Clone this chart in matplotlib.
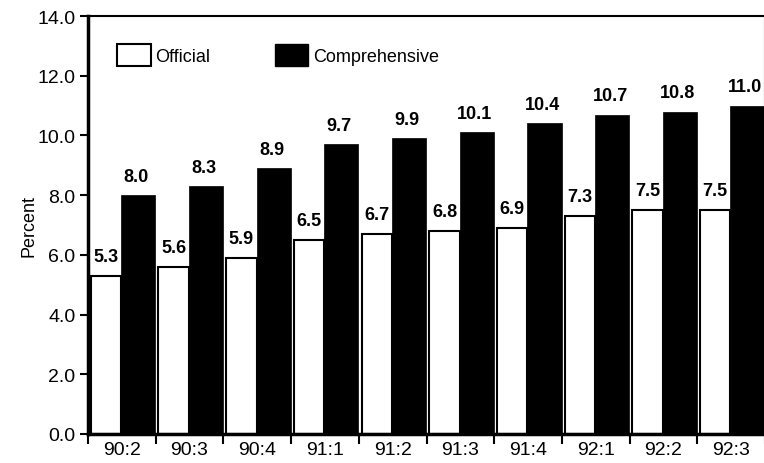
import matplotlib
matplotlib.use("Agg")
import matplotlib.pyplot as plt
from matplotlib.patches import Patch

plt.rcParams['font.family'] = ['Liberation Sans', 'DejaVu Sans']

quarters = ["90:2", "90:3", "90:4", "91:1", "91:2", "91:3", "91:4", "92:1", "92:2", "92:3"]
official = [5.3, 5.6, 5.9, 6.5, 6.7, 6.8, 6.9, 7.3, 7.5, 7.5]
comprehensive = [8.0, 8.3, 8.9, 9.7, 9.9, 10.1, 10.4, 10.7, 10.8, 11.0]
yticks = [0, 2, 4, 6, 8, 10, 12, 14]

fig = plt.figure(figsize=(7.64, 4.64), dpi=100)
ax = fig.add_axes([88/764, 29/464, 677/764, 418/464])

n = len(quarters)
w_off = 0.45
w_comp = 0.505
x0 = [i + 0.04 for i in range(n)]
x1 = [i + 0.04 + w_off for i in range(n)]

ax.bar(x0, official, width=w_off, align='edge', color='white', edgecolor='black', linewidth=1.5, zorder=2)
ax.bar(x1, comprehensive, width=w_comp, align='edge', color='black', edgecolor='black', linewidth=0.5, zorder=2)

for i in range(n):
    ax.annotate(f"{official[i]:.1f}", (x0[i] + w_off/2, official[i]), xytext=(0, 10.5),
                textcoords='offset points', ha='center', va='baseline', fontsize=13, fontweight='bold')
    ax.annotate(f"{comprehensive[i]:.1f}", (x1[i] + w_comp/2, comprehensive[i]), xytext=(-1.5, 10.5),
                textcoords='offset points', ha='center', va='baseline', fontsize=13, fontweight='bold')

ax.set_xlim(0, n)
ax.set_ylim(0, 14)
ax.set_yticks(yticks)
ax.set_yticklabels([f"{v:.1f}" for v in yticks], fontsize=14)
ax.set_xticks(range(n + 1))
ax.set_xticklabels([])
ax.set_xticks([i + 0.5 for i in range(n)], minor=True)
ax.set_xticklabels(quarters, minor=True, fontsize=14)
ax.tick_params(axis='x', which='major', direction='out', length=7, width=1.5)
ax.tick_params(axis='x', which='minor', length=0, pad=5)
ax.tick_params(axis='y', direction='out', length=6, width=1.5, pad=3)
ax.set_ylabel("Percent", fontsize=13, labelpad=0)

for s in ['left', 'bottom']:
    ax.spines[s].set_linewidth(2.5)
ax.spines['top'].set_linewidth(1.5)
ax.spines['right'].set_linewidth(1.5)

handles = [Patch(facecolor='white', edgecolor='black', linewidth=1.5, label='Official'),
           Patch(facecolor='black', edgecolor='black', label='Comprehensive')]
ax.legend(handles=handles, loc='center left', bbox_to_anchor=(0.043, 0.907), ncol=2, frameon=False,
          fontsize=13, handlelength=1.85, handleheight=1.45, handletextpad=0.25, columnspacing=3.6,
          borderpad=0, borderaxespad=0)

fig.savefig("out.png", dpi=100)
